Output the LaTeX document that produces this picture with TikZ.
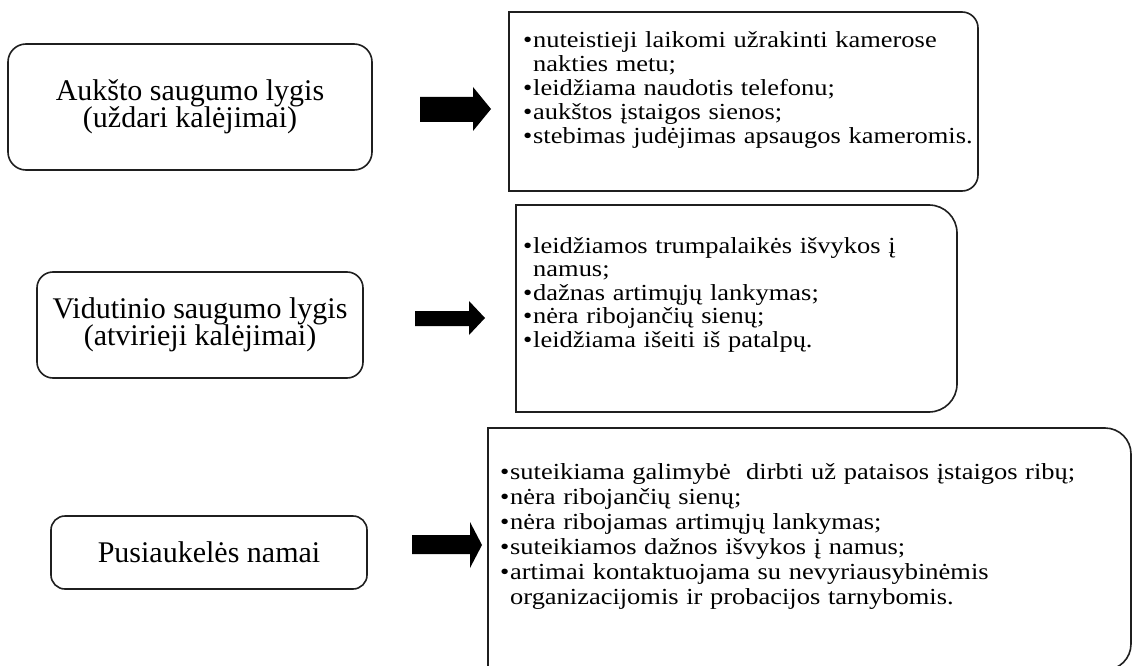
\documentclass[tikz,border=0pt]{standalone}
\usepackage{fontspec}
\setmainfont{Liberation Serif}
\newfontfamily\rfont{Liberation Serif}[FakeStretch=1.15]
\newcommand\bitem[1]{\hangindent=10pt\hangafter=1\noindent\makebox[10pt][l]{\textbullet}#1\par}
\tikzset{
  lbox/.style={draw=black!88, line width=1.6pt, rounded corners=18pt, align=center, inner sep=0pt,
    font=\fontsize{30}{27.5}\selectfont},
  rbox/.style={draw=black!88, line width=1.6pt},
  blockarrow/.style={fill=black},
  rtext/.style={anchor=base west, inner sep=0pt, text width=640pt},
}
\begin{document}
\begin{tikzpicture}[x=1pt,y=-1pt]
\useasboundingbox (0,0) rectangle (1132,666);
\clip (0,0) rectangle (1132,666);
\fill[white] (0,0) rectangle (1132,666);

% left boxes
\node[lbox, minimum width=364pt, minimum height=126pt] (high) at (190,107)
  {Aukšto saugumo lygis\\(uždari kalėjimai)};
\node[lbox, minimum width=326pt, minimum height=106pt, rounded corners=16pt] (mid) at (200,325)
  {Vidutinio saugumo lygis\\(atvirieji kalėjimai)};
\node[lbox, minimum width=316pt, minimum height=73pt, rounded corners=14pt] (half) at (209,552.5)
  {Pusiaukelės namai};

% right boxes
\draw[rbox] (509,12) -- (900,12) [rounded corners=16pt] -- (978,12) -- (978,191) -- (900,191)
  [sharp corners] -- (509,191) -- cycle;
\draw[rbox] (516,205) -- (880,205) [rounded corners=28pt] -- (957,205) -- (957,412) -- (880,412)
  [sharp corners] -- (516,412) -- cycle;
\draw[rbox] (488,428) -- (1000,428) [rounded corners=26pt] -- (1131,428) -- (1131,670) -- (1000,670)
  [sharp corners] -- (488,670) -- cycle;

% block arrows
\fill[blockarrow] (420,97) -- (473,97) -- (473,87) -- (491,109) -- (473,131) -- (473,122) -- (420,122) -- cycle;
\fill[blockarrow] (415,311) -- (469,311) -- (469,301) -- (485,318) -- (469,335) -- (469,326) -- (415,326) -- cycle;
\fill[blockarrow] (412,535) -- (470,535) -- (470,522) -- (482,545) -- (470,568) -- (470,554) -- (412,554) -- cycle;

% texts
\node[rtext, font=\rfont\fontsize{23}{24}\selectfont] (t1) at (523,48) {%
\bitem{nuteistieji laikomi užrakinti kamerose\newline nakties metu;}%
\bitem{leidžiama naudotis telefonu;}%
\bitem{aukštos įstaigos sienos;}%
\bitem{stebimas judėjimas apsaugos kameromis.}};

\node[rtext, font=\rfont\fontsize{23}{23.5}\selectfont] (t2) at (523,253) {%
\bitem{leidžiamos trumpalaikės išvykos į\newline namus;}%
\bitem{dažnas artimųjų lankymas;}%
\bitem{nėra ribojančių sienų;}%
\bitem{leidžiama išeiti iš patalpų.}};

\node[rtext, font=\rfont\fontsize{23}{25}\selectfont] (t3) at (500,479) {%
\bitem{suteikiama galimybė~ dirbti už pataisos įstaigos ribų;}%
\bitem{nėra ribojančių sienų;}%
\bitem{nėra ribojamas artimųjų lankymas;}%
\bitem{suteikiamos dažnos išvykos į namus;}%
\bitem{artimai kontaktuojama su nevyriausybinėmis\newline organizacijomis ir probacijos tarnybomis.}};
\end{tikzpicture}
\end{document}
